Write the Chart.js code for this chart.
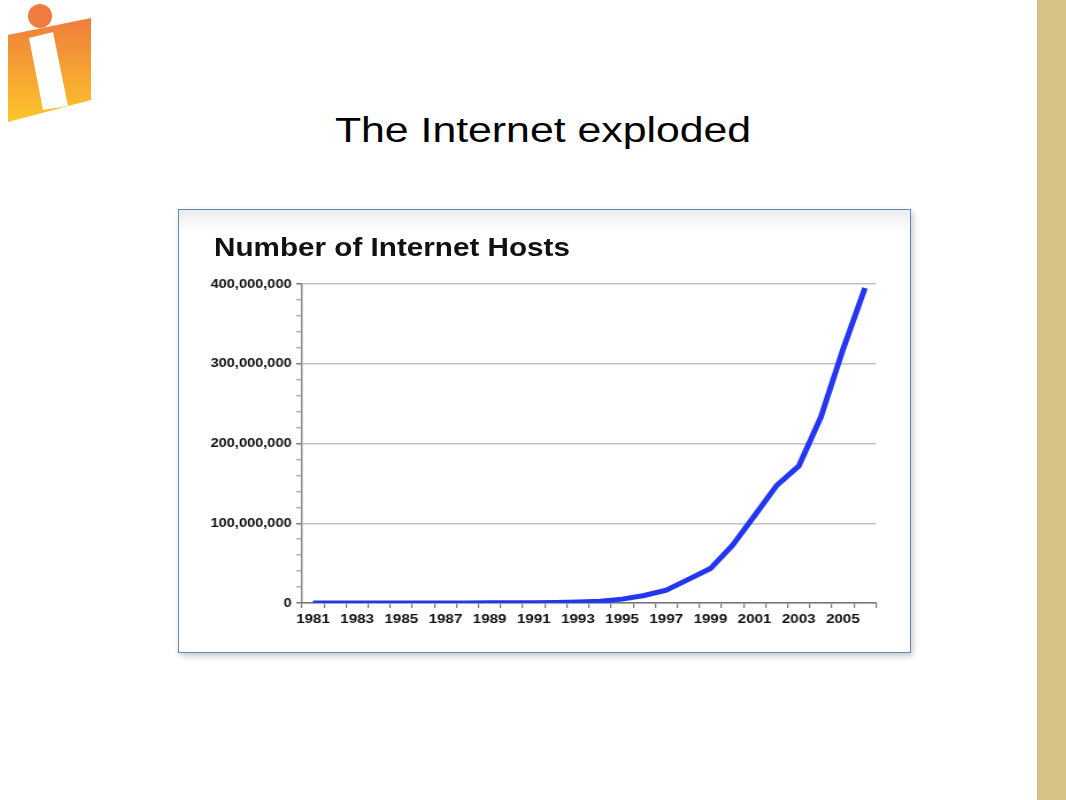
<!DOCTYPE html>
<html>
<head>
<meta charset="utf-8">
<script src="https://cdn.jsdelivr.net/npm/chart.js@4.4.1/dist/chart.umd.min.js"></script>
<style>
  body { margin: 0; background: #fff; }
  #slide { position: relative; width: 1066px; height: 800px; overflow: hidden; background: #fff;
           font-family: "Liberation Sans", Arial, sans-serif; }
  #bar { position: absolute; left: 1037px; top: 0; width: 29px; height: 800px; background: #d5c386; }
  #heading { position: absolute; left: 543px; top: 113px; font-size: 35.5px; line-height: 1; color: #000;
             white-space: nowrap; transform: translateX(-50%) scaleX(1.205); }
  #box { position: absolute; left: 178px; top: 209px; width: 733px; height: 444px; box-sizing: border-box;
         border: 1px solid #6089b4; box-shadow: 2px 3px 6px rgba(0,0,0,0.22);
         background: linear-gradient(#ececec, #fff 22px); }
  #wrap { position: absolute; left: 0; top: 0; width: 636px; height: 442px;
          transform: scaleX(1.1494); transform-origin: 0 0; }
  #chartTitle { position: absolute; left: 30.5px; top: 25px; font-size: 25.8px; line-height: 1;
                font-weight: bold; color: #111; white-space: nowrap; }
  #canvas1 { position: absolute; left: 0; top: 0; }
</style>
</head>
<body>
<div id="slide">
  <svg width="100" height="130" style="position:absolute;left:0;top:0">
    <defs>
      <linearGradient id="g" x1="0" y1="0" x2="0" y2="1">
        <stop offset="0" stop-color="#ee7d3c"/>
        <stop offset="1" stop-color="#fdc62a"/>
      </linearGradient>
    </defs>
    <polygon points="8,35 91,18 91,100 8,122" fill="url(#g)"/>
    <polygon points="29,38 53,32 68,106 43,110" fill="#fff"/>
    <circle cx="40" cy="16" r="12" fill="#ef7b3e"/>
  </svg>
  <div id="bar"></div>
  <div id="heading">The Internet exploded</div>
  <div id="box">
    <div id="wrap">
      <canvas id="canvas1" width="636" height="442"></canvas>
      <div id="chartTitle">Number of Internet Hosts</div>
    </div>
  </div>
</div>
<script>
var years = ['1981', '1982', '1983', '1984', '1985', '1986', '1987', '1988', '1989', '1990',
             '1991', '1992', '1993', '1994', '1995', '1996', '1997', '1998', '1999', '2000',
             '2001', '2002', '2003', '2004', '2005', '2006'];
var hosts = [213, 235, 562, 1024, 1961, 5089, 28174, 56000, 159000, 313000,
             376000, 727000, 1313000, 2217000, 4852000, 9472000, 16146000, 29670000, 43230000, 72398000,
             109574000, 147345000, 171638000, 233101000, 317646000, 394991000];
var yMax = 400000000;
var yStep = 20000000;
var yMajor = 100000000;

var fontFamily = '"Liberation Sans", Arial, sans-serif';

new Chart(document.getElementById('canvas1'), {
    type: 'line',
    data: {
        labels: years,
        datasets: [{
            data: hosts,
            borderColor: '#2337f0',
            borderWidth: 5,
            pointRadius: 0,
            tension: 0,
            fill: false
        }]
    },
    options: {
        responsive: false,
        animation: false,
        layout: { padding: { left: 20, right: 29.6, top: 74, bottom: 0 } },
        plugins: {
            legend: { display: false },
            tooltip: { enabled: false }
        },
        scales: {
            x: {
                offset: true,
                afterFit: function (s) { s.height = 49; },
                grid: { offset: true, drawOnChartArea: false, drawTicks: true, tickLength: 5, tickColor: '#777', lineWidth: 1.2 },
                border: { color: '#777', width: 1.5 },
                ticks: {
                    autoSkip: false, maxRotation: 0, padding: 3, color: '#111',
                    font: { family: fontFamily, size: 13.2, weight: 'bold' },
                    callback: function (v, i) { return i % 2 === 0 ? years[i] : ''; }
                }
            },
            y: {
                min: 0,
                max: yMax,
                afterFit: function (s) { s.width = 87; },
                grid: {
                    tickLength: 5,
                    lineWidth: 1.5,
                    color: function (c) { return c.tick && c.tick.value % yMajor === 0 ? '#c2c2c2' : 'rgba(0,0,0,0)'; },
                    tickColor: function (c) { return c.tick && c.tick.value % yMajor === 0 ? '#777' : '#b0b0b0'; }
                },
                border: { color: '#888', width: 1.5 },
                ticks: {
                    autoSkip: false, stepSize: yStep, padding: 4, color: '#111',
                    font: { family: fontFamily, size: 12.7, weight: 'bold' },
                    callback: function (v) { return v % yMajor === 0 ? v.toLocaleString('en-US') : ''; }
                }
            }
        }
    }
});
</script>
</body>
</html>
